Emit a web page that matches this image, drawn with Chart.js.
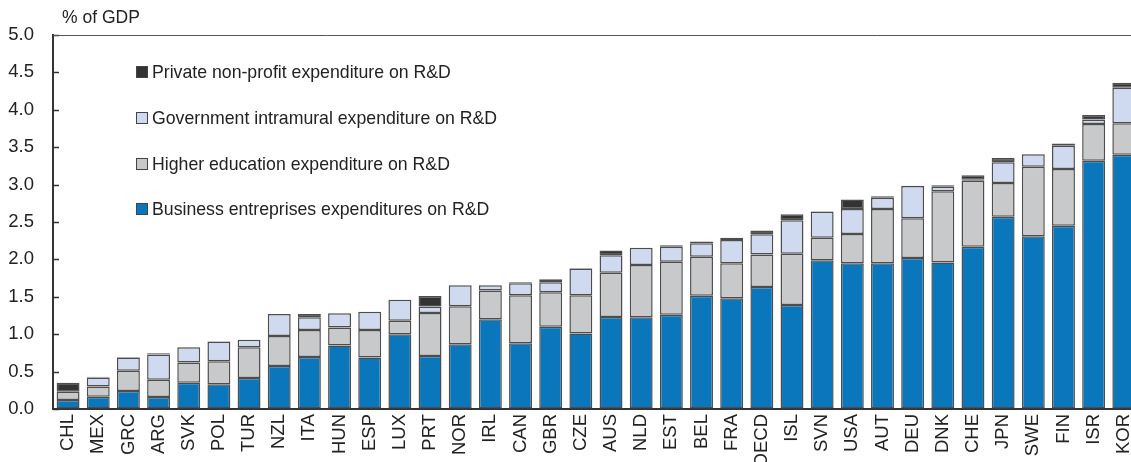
<!DOCTYPE html>
<html>
<head>
<meta charset="utf-8">
<script src="https://cdn.jsdelivr.net/npm/chart.js@4"></script>
<style>
  html, body { margin: 0; padding: 0; background: #fff; overflow: hidden; }
  #wrap { position: relative; width: 1131px; height: 462px; overflow: hidden; }
  #box { position: absolute; left: 0; top: 0; width: 1151px; height: 462px; }
  #legend { position: absolute; left: 136px; top: 62px; font: 17.7px "Liberation Sans Narrow", "Arial Narrow", sans-serif; color: #222; }
  #legend div { height: 45.8px; display: flex; align-items: flex-start; }
  #legend span.sw { display: inline-block; width: 10px; height: 10px; border: 1px solid #444; margin: 4px 4px 0 0; }
</style>
</head>
<body>
<div id="wrap">
  <div id="box"><canvas id="chart" width="1151" height="462"></canvas></div>
  <div id="legend"></div>
</div>
<script>
const countries = ["CHL","MEX","GRC","ARG","SVK","POL","TUR","NZL","ITA","HUN","ESP","LUX","PRT","NOR","IRL","CAN","GBR","CZE","AUS","NLD","EST","BEL","FRA","OECD","ISL","SVN","USA","AUT","DEU","DNK","CHE","JPN","SWE","FIN","ISR","KOR"];

const business   = [0.12,0.165,0.24,0.16,0.35,0.33,0.415,0.575,0.695,0.85,0.69,1.00,0.71,0.865,1.20,0.88,1.10,1.01,1.23,1.225,1.26,1.515,1.48,1.63,1.39,1.99,1.95,1.95,2.02,1.96,2.17,2.57,2.31,2.45,3.32,3.40];
const higherEdu  = [0.11,0.135,0.27,0.23,0.27,0.31,0.41,0.40,0.36,0.24,0.365,0.18,0.575,0.51,0.385,0.64,0.46,0.51,0.59,0.70,0.71,0.52,0.47,0.435,0.685,0.30,0.39,0.725,0.53,0.95,0.88,0.45,0.93,0.76,0.49,0.42];
const government = [0.0,0.12,0.18,0.34,0.205,0.26,0.10,0.295,0.17,0.19,0.245,0.28,0.085,0.28,0.07,0.16,0.135,0.36,0.235,0.23,0.20,0.18,0.31,0.27,0.45,0.35,0.335,0.15,0.43,0.06,0.015,0.28,0.165,0.31,0.06,0.475];
const privateNp  = [0.12,0.01,0.005,0.015,0.005,0.005,0.0,0.0,0.045,0.0,0.0,0.0,0.14,0.0,0.0,0.015,0.04,0.005,0.065,0.0,0.02,0.025,0.03,0.05,0.08,0.005,0.125,0.02,0.005,0.02,0.06,0.055,0.005,0.03,0.06,0.065];

const yTicks = [0,0.5,1,1.5,2,2.5,3,3.5,4,4.5,5];

const series = [
  { label: "Business entreprises expenditures on R&D", data: business, color: "#0a77bd" },
  { label: "Higher education expenditure on R&D", data: higherEdu, color: "#c8c9cb" },
  { label: "Government intramural expenditure on R&D", data: government, color: "#cfd9ef" },
  { label: "Private non-profit expenditure on R&D", data: privateNp, color: "#333333" }
];

const FONT = '"Liberation Sans Narrow", "Arial Narrow", sans-serif';

// extra drawing: inward ticks on the y axis, top frame line, unit label
const extras = {
  id: 'extras',
  afterDraw(chart) {
    const ctx = chart.ctx;
    const area = chart.chartArea;
    const y = chart.scales.y;
    ctx.save();
    ctx.strokeStyle = '#333';
    ctx.lineWidth = 1.5;
    yTicks.forEach(v => {
      const py = Math.round(y.getPixelForValue(v)) + 0.5;
      ctx.beginPath();
      ctx.moveTo(area.left, py);
      ctx.lineTo(area.left + 6, py);
      ctx.stroke();
    });
    ctx.strokeStyle = '#555';
    ctx.lineWidth = 1;
    ctx.beginPath();
    ctx.moveTo(area.left, area.top + 0.5);
    ctx.lineTo(chart.width, area.top + 0.5);
    ctx.stroke();
    ctx.fillStyle = '#222';
    ctx.font = '17.5px ' + FONT;
    ctx.textBaseline = 'middle';
    ctx.fillText('% of GDP', 62, 18);
    ctx.restore();
  }
};

new Chart(document.getElementById('chart'), {
  type: 'bar',
  data: {
    labels: countries,
    datasets: series.map(s => ({
      label: s.label,
      data: s.data,
      backgroundColor: s.color,
      borderColor: '#4d4d4d',
      borderWidth: 1.5,
      borderSkipped: false,
      barPercentage: 0.76,
      categoryPercentage: 1.0
    }))
  },
  options: {
    responsive: false,
    animation: false,
    layout: { padding: { top: 35, left: 0, right: 0, bottom: 0 } },
    plugins: { legend: { display: false }, tooltip: { enabled: false } },
    scales: {
      x: {
        stacked: true,
        grid: { display: true, drawOnChartArea: false, drawTicks: false },
        border: { display: true, color: '#333', width: 2 },
        ticks: { color: '#222', font: { size: 18.5, family: FONT }, minRotation: 90, maxRotation: 90, padding: 5, autoSkip: false },
        afterFit(scale) { scale.height = 53; }
      },
      y: {
        stacked: true,
        min: 0,
        max: 5,
        grid: { display: true, drawOnChartArea: false, drawTicks: false },
        border: { display: true, color: '#333', width: 2 },
        ticks: { stepSize: 0.5, color: '#222', font: { size: 18.5, family: FONT }, padding: 19, callback: v => v.toFixed(1) },
        afterFit(scale) { scale.width = 53; }
      }
    }
  },
  plugins: [extras]
});

// legend, top entry is the top of the stack
const legend = document.getElementById('legend');
series.slice().reverse().forEach(s => {
  const row = document.createElement('div');
  const sw = document.createElement('span');
  sw.className = 'sw';
  sw.style.background = s.color;
  row.appendChild(sw);
  row.appendChild(document.createTextNode(s.label));
  legend.appendChild(row);
});
</script>
</body>
</html>
